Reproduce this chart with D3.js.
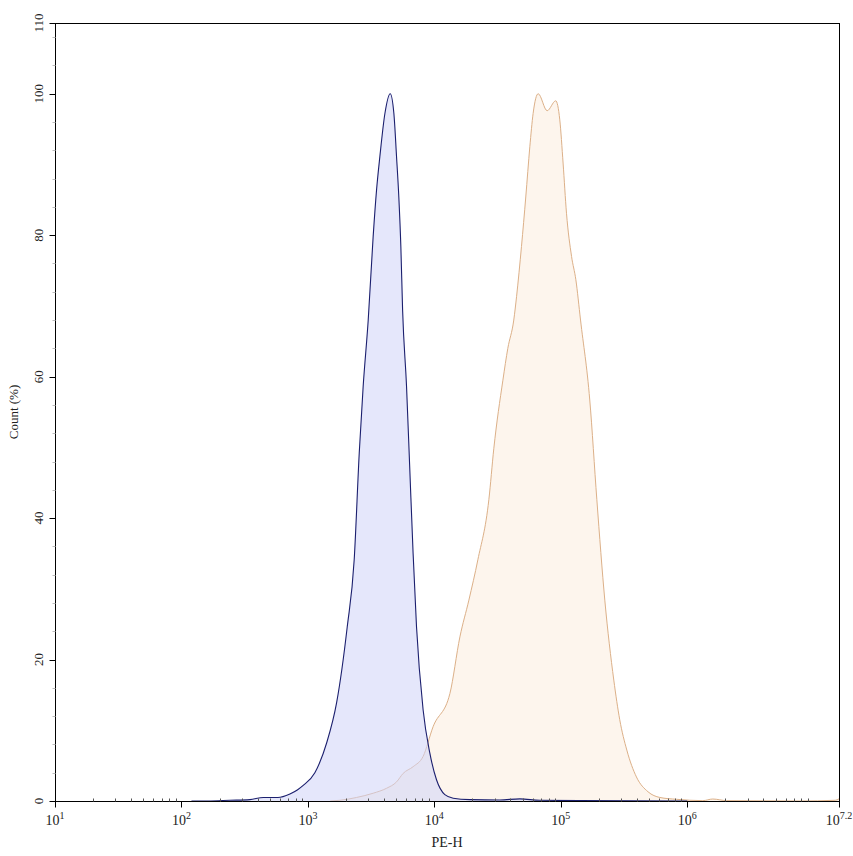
<!DOCTYPE html>
<html>
<head>
<meta charset="utf-8">
<script src="https://cdn.jsdelivr.net/npm/d3@7"></script>
<style>
  body { margin: 0; background: #fff; }
  text { font-family: "Liberation Serif", "Times New Roman", serif; fill: #222; }
</style>
</head>
<body>
<div id="chart"></div>
<script>
// blue histogram (control) - PE-H value and count (%)
const blueX = [120, 162, 242, 348, 444, 579, 721, 830, 918, 1135, 1406, 1687, 2046, 2323, 2547, 2735, 2999,
  3281, 3491, 3707, 4064, 4477, 4786, 5023, 5236, 5433, 5610, 6026, 6397, 6792, 7228, 8147, 9204,
  10399, 12106, 14093, 19099, 32961, 47424, 68234, 141254, 1000000];
const blueY = [0, 0, 0.1, 0.2, 0.5, 0.5, 1.0, 1.6, 2.2, 4.0, 8.2, 13.9, 24.6, 34.1, 49.2, 58.6, 68.0,
  79.8, 86.4, 91.1, 97.2, 100, 97.2, 91.1, 85.4, 78.4, 69.4, 58.6, 46.8, 35.0, 24.6, 12.9, 6.8,
  3.0, 0.9, 0.4, 0.2, 0.15, 0.3, 0.1, 0.05, 0];

// orange histogram (stained)
const orangeX = [1500, 1791, 2427, 3281, 4188, 5023, 5662, 6792, 8147, 9772, 13274, 15922, 18750, 22080,
  26977, 29512, 34834, 38107, 42462, 44668, 48865, 52845, 56885, 60395, 66222, 77983, 91201, 98175,
  104240, 110917, 121619, 131522, 143219, 169434, 192752, 222844, 262422, 292415, 332659, 396278,
  489779, 606736, 822243, 1327394, 1592209, 2051162, 7762471, 14791084, 15848932];
const orangeY = [0, 0.1, 0.5, 1.1, 1.8, 2.7, 3.9, 4.85, 6.3, 10.5, 15.2, 23.2, 28.4, 34.1,
  42.6, 49.8, 59.5, 64.0, 68.0, 71.3, 78.4, 85.4, 92.5, 97.2, 100, 97.6, 99.0, 96.3,
  90.2, 83.1, 77.0, 73.7, 68.0, 56.7, 42.6, 28.4, 17.1, 11.5, 7.2, 3.4,
  1.3, 0.5, 0.24, 0.05, 0.28, 0.05, 0, 0.1, 0.3];

const xMajor = [1, 2, 3, 4, 5, 6, 7.2];      // exponents of 10
const yMajor = [0, 20, 40, 60, 80, 100, 110];

const WIDTH = 853, HEIGHT = 856;
const margin = { left: 55, right: 14, top: 23, bottom: 55 };

const svg = d3.select("#chart").append("svg")
  .attr("width", WIDTH).attr("height", HEIGHT);

const x = d3.scaleLog()
  .domain([10, Math.pow(10, 7.2)])
  .range([margin.left, WIDTH - margin.right]);
const y = d3.scaleLinear()
  .domain([0, 110])
  .range([HEIGHT - margin.bottom, margin.top]);

const area = d3.area()
  .x(d => x(d[0])).y0(y(0)).y1(d => y(d[1]))
  .curve(d3.curveMonotoneX);
const line = d3.line()
  .x(d => x(d[0])).y(d => y(d[1]))
  .curve(d3.curveMonotoneX);

const orange = orangeX.map((v, i) => [v, orangeY[i]]);
const blue = blueX.map((v, i) => [v, blueY[i]]);

// orange first, blue on top with translucent fill
svg.append("path").datum(orange).attr("d", area)
  .attr("fill", "#fbe8d5").attr("fill-opacity", 0.42);
svg.append("path").datum(orange).attr("d", line)
  .attr("fill", "none").attr("stroke", "#dcb088").attr("stroke-width", 1);
svg.append("path").datum(blue).attr("d", area)
  .attr("fill", "#d0d4f7").attr("fill-opacity", 0.55);
svg.append("path").datum(blue).attr("d", line)
  .attr("fill", "none").attr("stroke", "#1b1f6e").attr("stroke-width", 1.1);

// frame
svg.append("rect")
  .attr("x", x.range()[0] + 0.5).attr("y", y(110) + 0.5)
  .attr("width", x.range()[1] - x.range()[0]).attr("height", y(0) - y(110))
  .attr("fill", "none").attr("stroke", "#000").attr("stroke-width", 1);

// x minor ticks (inside)
const xMinor = [];
for (let e = 1; e < 8; e++) {
  for (let m = 2; m <= 9; m++) {
    const v = m * Math.pow(10, e);
    if (v < Math.pow(10, 7.2)) xMinor.push(v);
  }
}
const gx = svg.append("g").attr("transform", `translate(0,${y(0) + 0.5})`);
gx.selectAll("line.minor").data(xMinor).enter().append("line")
  .attr("x1", d => Math.round(x(d)) + 0.5).attr("x2", d => Math.round(x(d)) + 0.5)
  .attr("y1", -3).attr("y2", 0).attr("stroke", "#555");
gx.selectAll("line.major").data(xMajor).enter().append("line")
  .attr("x1", d => Math.round(x(Math.pow(10, d))) + 0.5).attr("x2", d => Math.round(x(Math.pow(10, d))) + 0.5)
  .attr("y1", 0).attr("y2", 6).attr("stroke", "#000");
const xl = gx.selectAll("text").data(xMajor).enter().append("text")
  .attr("x", d => x(Math.pow(10, d)))
  .attr("y", 23)
  .attr("text-anchor", "middle")
  .attr("font-size", "14px");
xl.append("tspan").text("10");
xl.append("tspan").attr("dy", -6).attr("font-size", "10px").text(d => d);

// y ticks
const yMinor = d3.range(4, 110, 4).filter(v => v % 20 !== 0);
const gy = svg.append("g").attr("transform", `translate(${x.range()[0] + 0.5},0)`);
gy.selectAll("line.minor").data(yMinor).enter().append("line")
  .attr("y1", d => Math.round(y(d)) + 0.5).attr("y2", d => Math.round(y(d)) + 0.5)
  .attr("x1", -3).attr("x2", 0).attr("stroke", "#bbb");
gy.selectAll("line.major").data(yMajor).enter().append("line")
  .attr("y1", d => Math.round(y(d)) + 0.5).attr("y2", d => Math.round(y(d)) + 0.5)
  .attr("x1", -6).attr("x2", 0).attr("stroke", "#000");
gy.selectAll("text").data(yMajor).enter().append("text")
  .attr("transform", d => `translate(-17,${y(d)}) rotate(-90)`)
  .attr("dy", "0.35em")
  .attr("text-anchor", "middle")
  .attr("font-size", "13px")
  .text(d => d);

// axis titles
svg.append("text")
  .attr("x", (x.range()[0] + x.range()[1]) / 2).attr("y", 847)
  .attr("text-anchor", "middle").attr("font-size", "14px")
  .text("PE-H");
svg.append("text")
  .attr("transform", `translate(13,${(y(0) + y(110)) / 2}) rotate(-90)`)
  .attr("dy", "0.35em")
  .attr("text-anchor", "middle").attr("font-size", "13px")
  .text("Count (%)");
</script>
</body>
</html>
